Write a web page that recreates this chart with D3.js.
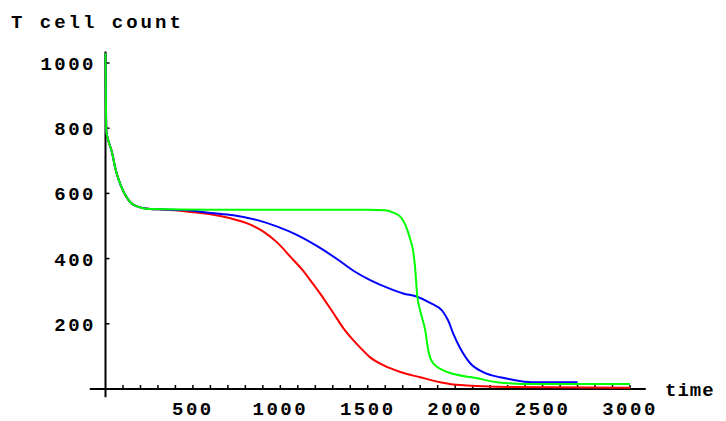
<!DOCTYPE html>
<html>
<head>
<meta charset="utf-8">
<script src="https://cdn.jsdelivr.net/npm/d3@7"></script>
<style>
  body { margin: 0; background: #fff; }
  text { font-family: "Liberation Mono", "DejaVu Sans Mono", monospace; font-weight: bold; }
</style>
</head>
<body>
<svg width="726" height="421"></svg>
<script>

// values (time, T cell count)
var timesRed   = [0, 5, 15, 37, 57, 86, 126, 160, 257, 300, 400, 486, 600, 714, 811, 903, 983, 1057, 1131, 1171, 1229, 1303, 1360, 1417, 1457, 1514, 1589, 1686, 1800, 1914, 2029, 2331, 3000];
var countsRed  = [1030, 790, 765, 726, 675, 626, 584, 565, 552, 551, 548, 543, 536, 524, 508, 483, 449, 406, 362, 334, 292, 233, 187, 150, 127, 97, 73, 52, 36, 21, 12, 6, 4];

var timesBlue  = [0, 5, 15, 37, 57, 86, 126, 160, 257, 300, 450, 600, 731, 869, 983, 1097, 1211, 1326, 1420, 1514, 1629, 1703, 1783, 1857, 1926, 1960, 1989, 2029, 2086, 2160, 2257, 2314, 2440, 2700];
var countsBlue = [1030, 790, 765, 726, 675, 626, 584, 565, 552, 551, 549, 540, 533, 518, 498, 472, 438, 398, 362, 334, 307, 293, 283, 264, 240, 210, 170, 125, 79, 52, 36, 30, 21, 21];

var timesGreen  = [0, 5, 15, 37, 57, 86, 126, 160, 257, 600, 1000, 1500, 1600, 1650, 1686, 1714, 1743, 1760, 1771, 1783, 1800, 1829, 1846, 1874, 1954, 2126, 2240, 2446, 3000];
var countsGreen = [1030, 790, 765, 726, 675, 626, 584, 565, 552, 550, 550, 550, 548, 540, 529, 505, 459, 422, 371, 286, 240, 179, 119, 79, 52, 33, 21, 15, 15];

var xTicks = [500, 1000, 1500, 2000, 2500, 3000];
var xMinorTicks = d3.range(100, 3001, 100);
var yTicks = [200, 400, 600, 800, 1000];

var svg = d3.select("svg");

var x = d3.scaleLinear().domain([0, 3000]).range([105.5, 630]),
    y = d3.scaleLinear().domain([0, 1000]).range([389, 63]);

// axes, Mathematica style: crossing lines, small inward ticks
var ax = svg.append("g");
ax.append("line")
    .attr("x1", x(-90)).attr("x2", x(3090))
    .attr("y1", y(0)).attr("y2", y(0))
    .attr("stroke", "#000").attr("stroke-width", 2);
ax.append("line")
    .attr("x1", x(0)).attr("x2", x(0))
    .attr("y1", y(-25)).attr("y2", y(1035))
    .attr("stroke", "#000").attr("stroke-width", 2);

ax.selectAll(".xt")
  .data(xMinorTicks)
  .enter().append("line")
    .attr("x1", function(d) { return x(d); })
    .attr("x2", function(d) { return x(d); })
    .attr("y1", y(0)).attr("y2", y(0) - 4)
    .attr("stroke", "#000").attr("stroke-width", 1.5);

ax.selectAll(".yt")
  .data(yTicks)
  .enter().append("line")
    .attr("x1", x(0)).attr("x2", x(0) + 4)
    .attr("y1", function(d) { return y(d); })
    .attr("y2", function(d) { return y(d); })
    .attr("stroke", "#000").attr("stroke-width", 1.5);

ax.selectAll(".xl")
  .data(xTicks)
  .enter().append("text")
    .attr("x", function(d) { return x(d); })
    .attr("y", 415)
    .attr("text-anchor", "middle")
    .attr("font-size", 19)
    .attr("letter-spacing", 2.5)
    .text(function(d) { return d; });

ax.selectAll(".yl")
  .data(yTicks)
  .enter().append("text")
    .attr("x", 96)
    .attr("y", function(d) { return y(d) + 7; })
    .attr("text-anchor", "end")
    .attr("font-size", 19)
    .attr("letter-spacing", 2.5)
    .text(function(d) { return d; });

svg.append("text")
    .attr("x", 11).attr("y", 28)
    .attr("font-size", 19)
    .attr("letter-spacing", 3)
    .text("T cell count");

svg.append("text")
    .attr("x", 665).attr("y", 396)
    .attr("font-size", 19)
    .attr("letter-spacing", 1)
    .text("time");

// curves: red, blue, then green on top
var line = d3.line()
    .x(function(d) { return x(d[0]); })
    .y(function(d) { return y(d[1]); })
    .curve(d3.curveMonotoneX);

var series = [
  {color: "#ff0000", t: timesRed, v: countsRed},
  {color: "#0000ff", t: timesBlue, v: countsBlue},
  {color: "#00ff00", t: timesGreen, v: countsGreen}
];

svg.selectAll(".curve")
  .data(series)
  .enter().append("path")
    .attr("class", "curve")
    .attr("fill", "none")
    .attr("stroke", function(s) { return s.color; })
    .attr("stroke-width", 2)
    .attr("d", function(s) { return line(d3.zip(s.t, s.v)); });

</script>
</body>
</html>
